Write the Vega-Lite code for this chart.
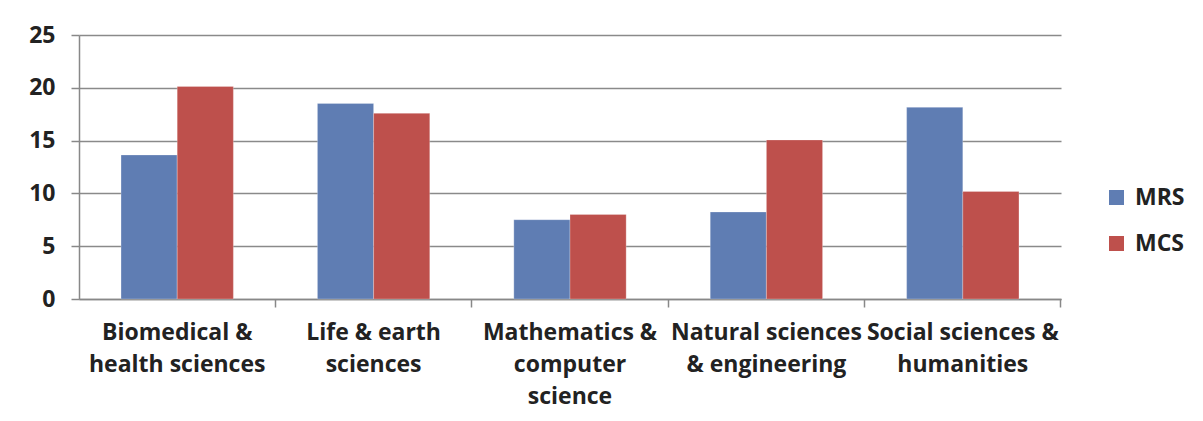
{
  "$schema": "https://vega.github.io/schema/vega-lite/v6.json",
  "width": 982,
  "height": 264,
  "autosize": "none",
  "padding": {"left": 79, "top": 35, "right": 142, "bottom": 122},
  "background": "white",
  "data": {
    "values": [
      {"field": "Biomedical & health sciences", "series": "MRS", "value": 13.64},
      {"field": "Biomedical & health sciences", "series": "MCS", "value": 20.13},
      {"field": "Life & earth sciences", "series": "MRS", "value": 18.52},
      {"field": "Life & earth sciences", "series": "MCS", "value": 17.58},
      {"field": "Mathematics & computer science", "series": "MRS", "value": 7.51},
      {"field": "Mathematics & computer science", "series": "MCS", "value": 8.01},
      {"field": "Natural sciences & engineering", "series": "MRS", "value": 8.24},
      {"field": "Natural sciences & engineering", "series": "MCS", "value": 15.06},
      {"field": "Social sciences & humanities", "series": "MRS", "value": 18.15},
      {"field": "Social sciences & humanities", "series": "MCS", "value": 10.19}
    ]
  },
  "resolve": {"axis": {"x": "independent"}},
  "layer": [
    {
      "mark": {"type": "bar", "stroke": "#ffffff", "strokeOpacity": 0.5, "strokeWidth": 0.5},
      "encoding": {
        "x": {
          "field": "field",
          "type": "nominal",
          "sort": null,
          "scale": {"paddingInner": 0.428, "paddingOuter": 0.214},
          "axis": {
            "orient": "bottom",
            "title": null,
            "labelAngle": 0,
            "ticks": false,
            "domainColor": "#888888",
            "domainWidth": 1.5,
            "labelFont": "Open Sans",
            "labelFontWeight": "bold",
            "labelFontSize": 23,
            "labelColor": "#222222",
            "labelPadding": 22,
            "labelLineHeight": 32,
            "labelLimit": 300,
            "labelExpr": "datum.label == 'Biomedical & health sciences' ? ['Biomedical &', 'health sciences'] : datum.label == 'Life & earth sciences' ? ['Life & earth', 'sciences'] : datum.label == 'Mathematics & computer science' ? ['Mathematics &', 'computer', 'science'] : datum.label == 'Natural sciences & engineering' ? ['Natural sciences', '& engineering'] : ['Social sciences &', 'humanities']"
          }
        },
        "xOffset": {"field": "series", "sort": ["MRS", "MCS"]},
        "y": {
          "field": "value",
          "type": "quantitative",
          "scale": {"domain": [0, 25], "nice": false},
          "axis": {
            "title": null,
            "values": [0, 5, 10, 15, 20, 25],
            "grid": true,
            "gridColor": "#8a8a8a",
            "gridWidth": 1.5,
            "tickSize": 8,
            "tickColor": "#888888",
            "tickWidth": 1.5,
            "domainColor": "#888888",
            "domainWidth": 1.5,
            "labelFont": "Open Sans",
            "labelFontWeight": "bold",
            "labelFontSize": 23,
            "labelColor": "#222222",
            "labelPadding": 16
          }
        },
        "color": {
          "field": "series",
          "type": "nominal",
          "sort": ["MRS", "MCS"],
          "scale": {"domain": ["MRS", "MCS"], "range": ["#5F7DB3", "#BE504C"]},
          "legend": {
            "title": null,
            "orient": "none",
            "legendX": 1026,
            "legendY": 151,
            "symbolType": "square",
            "symbolSize": 225,
            "symbolStrokeWidth": 0,
            "labelFont": "Open Sans",
            "labelFontWeight": "bold",
            "labelFontSize": 23,
            "labelColor": "#222222",
            "labelOffset": 7,
            "rowPadding": 22
          }
        }
      }
    },
    {
      "mark": {"type": "bar", "opacity": 0},
      "encoding": {
        "x": {
          "field": "field",
          "type": "nominal",
          "sort": null,
          "scale": {"paddingInner": 0.428, "paddingOuter": 0.214},
          "axis": {
            "orient": "bottom",
            "title": null,
            "labels": false,
            "domain": false,
            "ticks": true,
            "bandPosition": 1.374,
            "tickSize": 8,
            "tickColor": "#888888",
            "tickWidth": 1.5
          }
        }
      }
    }
  ],
  "config": {"view": {"stroke": null}}
}
